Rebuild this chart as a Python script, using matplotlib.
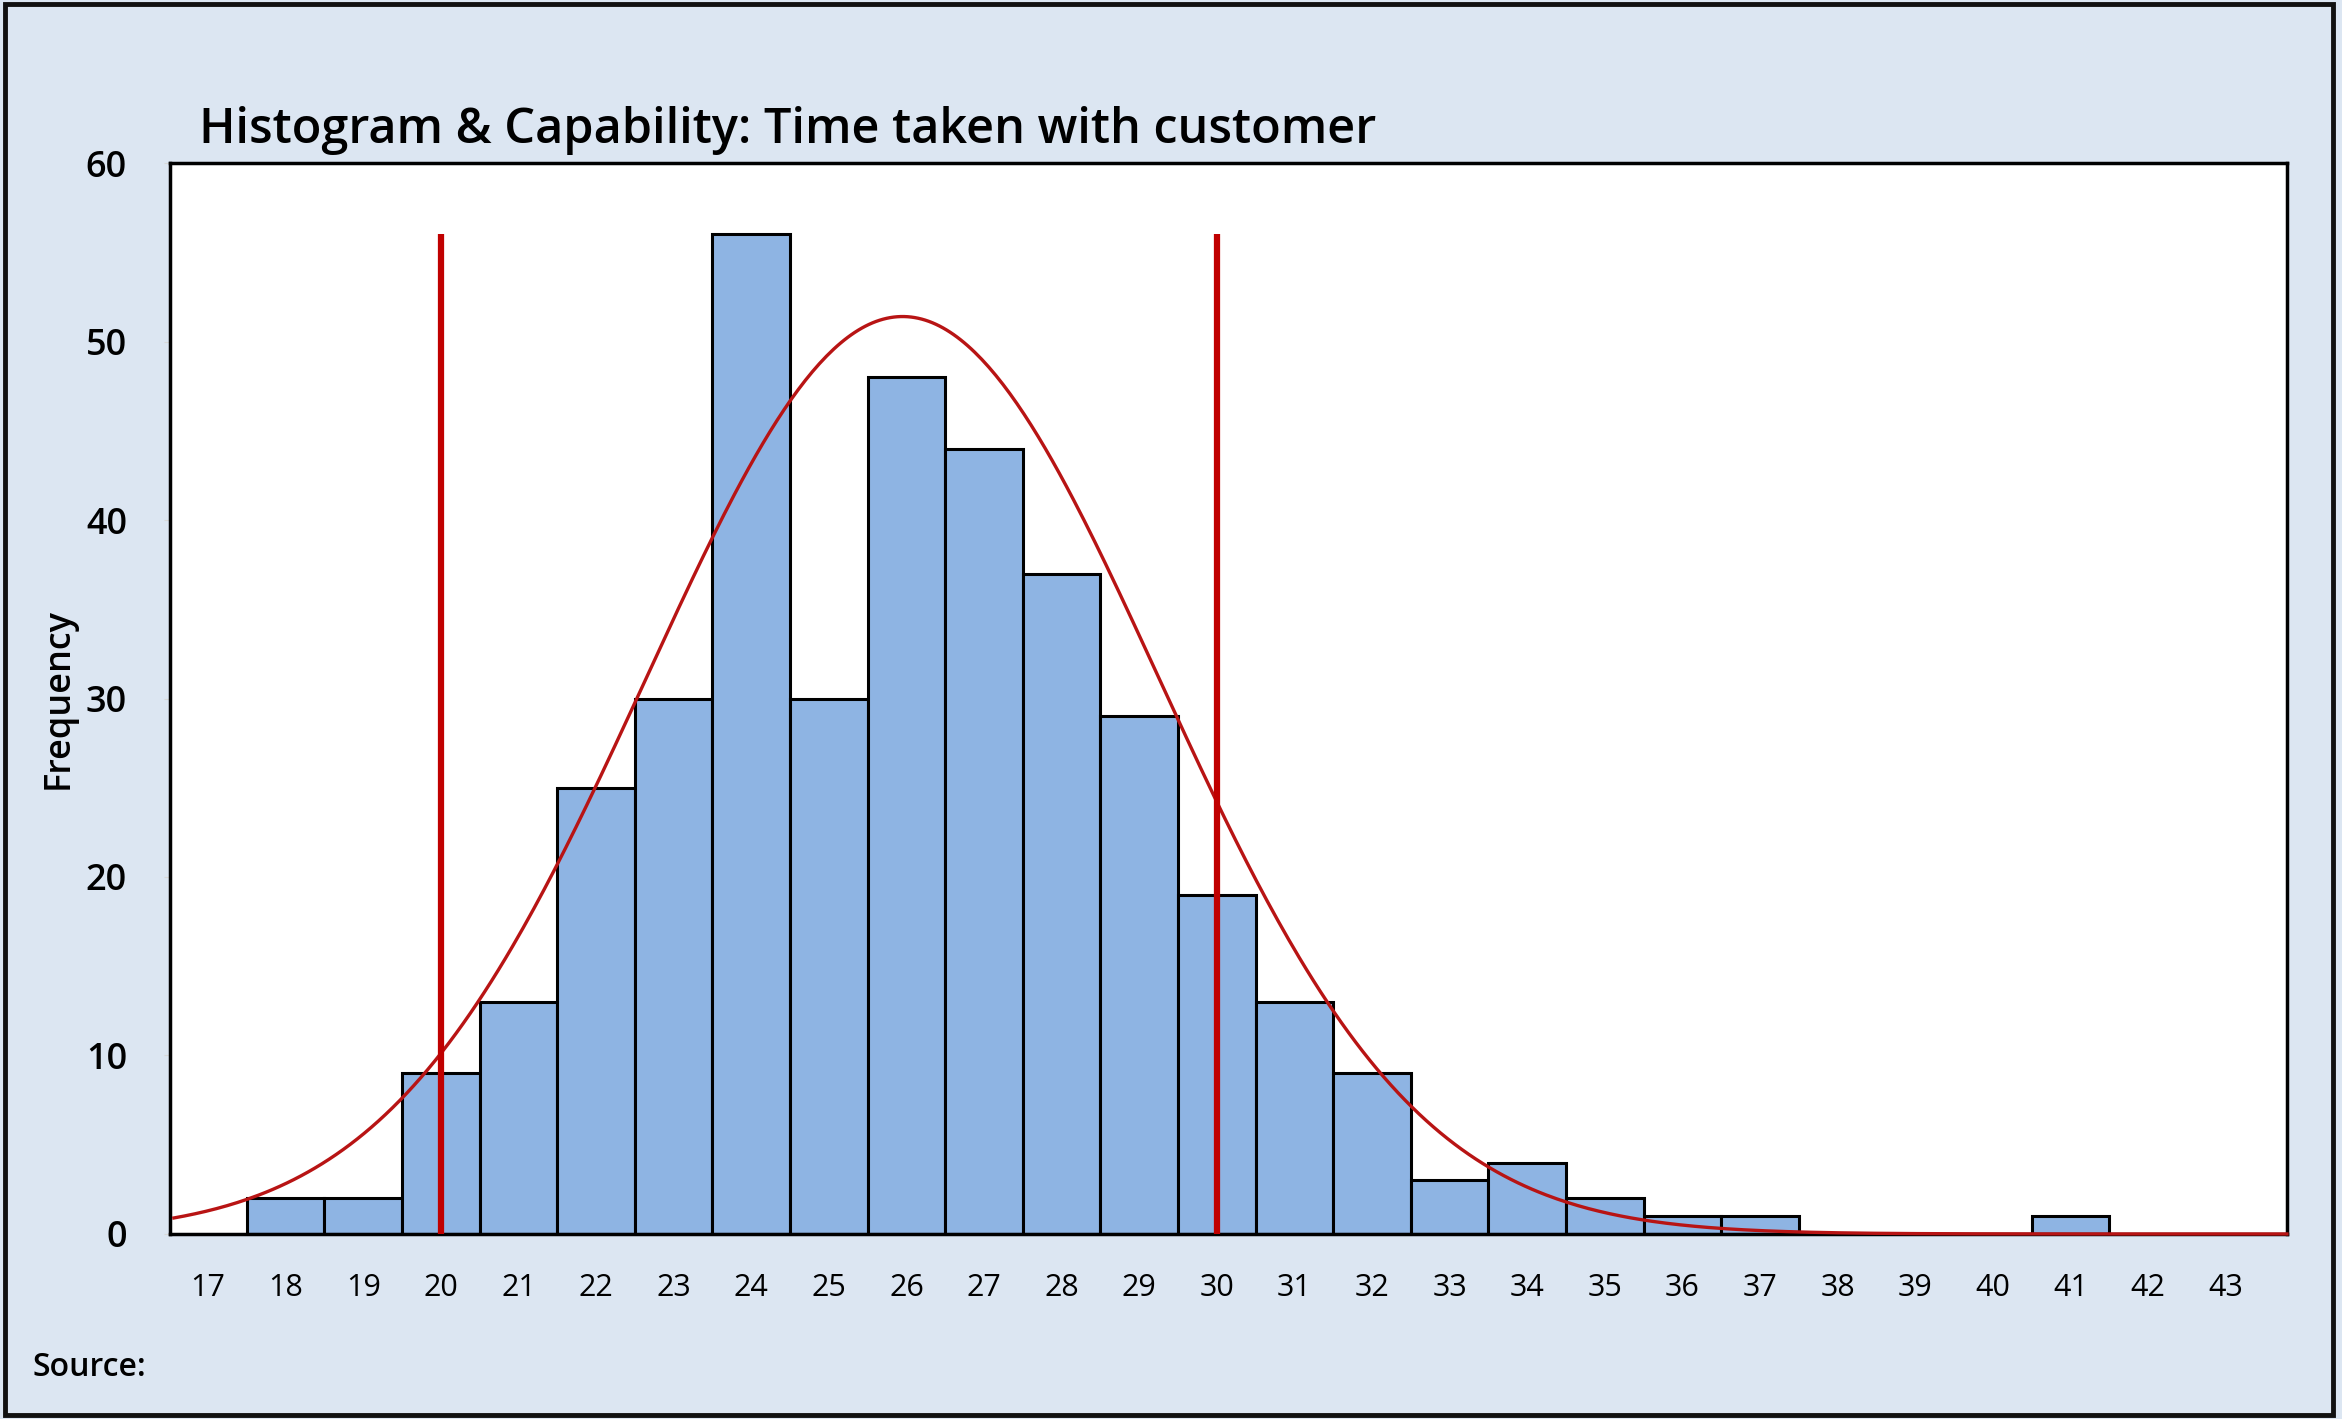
import matplotlib.pyplot as plt
import numpy as np

# histogram of time taken with customer (bin centres, counts)
bins = np.arange(18, 42)
counts = [2, 2, 9, 13, 25, 30, 56, 30, 48, 44, 37, 29, 19, 13, 9, 3, 4, 2, 1, 1, 0, 0, 0, 1]

# spec limits and fitted normal
lsl, usl = 20, 30
fit_mean = 25.95
fit_sd = 3.3
fit_peak = 51.4

xticks = list(range(17, 44))
yticks = [0, 10, 20, 30, 40, 50, 60]

bg = '#DCE6F2'
bar_col = '#8EB4E3'
red = '#C00000'

plt.rcParams['font.family'] = ['Open Sans', 'DejaVu Sans']

fig = plt.figure(figsize=(23.42, 14.19), dpi=100, facecolor=bg)
ax = fig.add_axes([0.0726, 0.1304, 0.9039, 0.7547])
ax.set_facecolor('white')

ax.bar(bins, counts, width=1.0, color=bar_col, edgecolor='black', linewidth=2.2, zorder=2)

xs = np.linspace(16.56, 43.79, 600)
ys = fit_peak * np.exp(-0.5 * ((xs - fit_mean) / fit_sd) ** 2)
ax.plot(xs, ys, color='#B81414', linewidth=2.4, zorder=3, clip_on=False)

ax.vlines([lsl, usl], 0, max(counts), color=red, linewidth=4.5, zorder=4)

ax.set_xlim(16.51, 43.79)
ax.set_ylim(0, 60)
ax.set_xticks(xticks)
ax.set_yticks(yticks)
ax.tick_params(axis='x', length=0, pad=28, labelsize=22)
ax.tick_params(axis='y', length=4, color='#D8D8D8', pad=27, labelsize=26)
for lab in ax.get_yticklabels():
    lab.set_fontweight('semibold')
for s in ax.spines.values():
    s.set_linewidth(2.5)
    s.set_color('black')

fig.text(0.0252, 0.5 * (0.1304 + 0.8851), 'Frequency', rotation=90, ha='center', va='center',
         fontsize=26, fontweight='semibold')
fig.text(0.085, 0.899, 'Histogram & Capability: Time taken with customer', ha='left',
         va='baseline', fontsize=35, fontweight='semibold')
fig.text(0.014, 0.036, 'Source:', ha='left', va='center', fontsize=23, fontweight='semibold')

# outer frame
fig.patches.append(plt.Rectangle((0.002, 0.003), 0.994, 0.994, transform=fig.transFigure,
                                 fill=False, edgecolor='#111111', linewidth=3.5))

plt.savefig('out.png', dpi=100, facecolor=bg)
